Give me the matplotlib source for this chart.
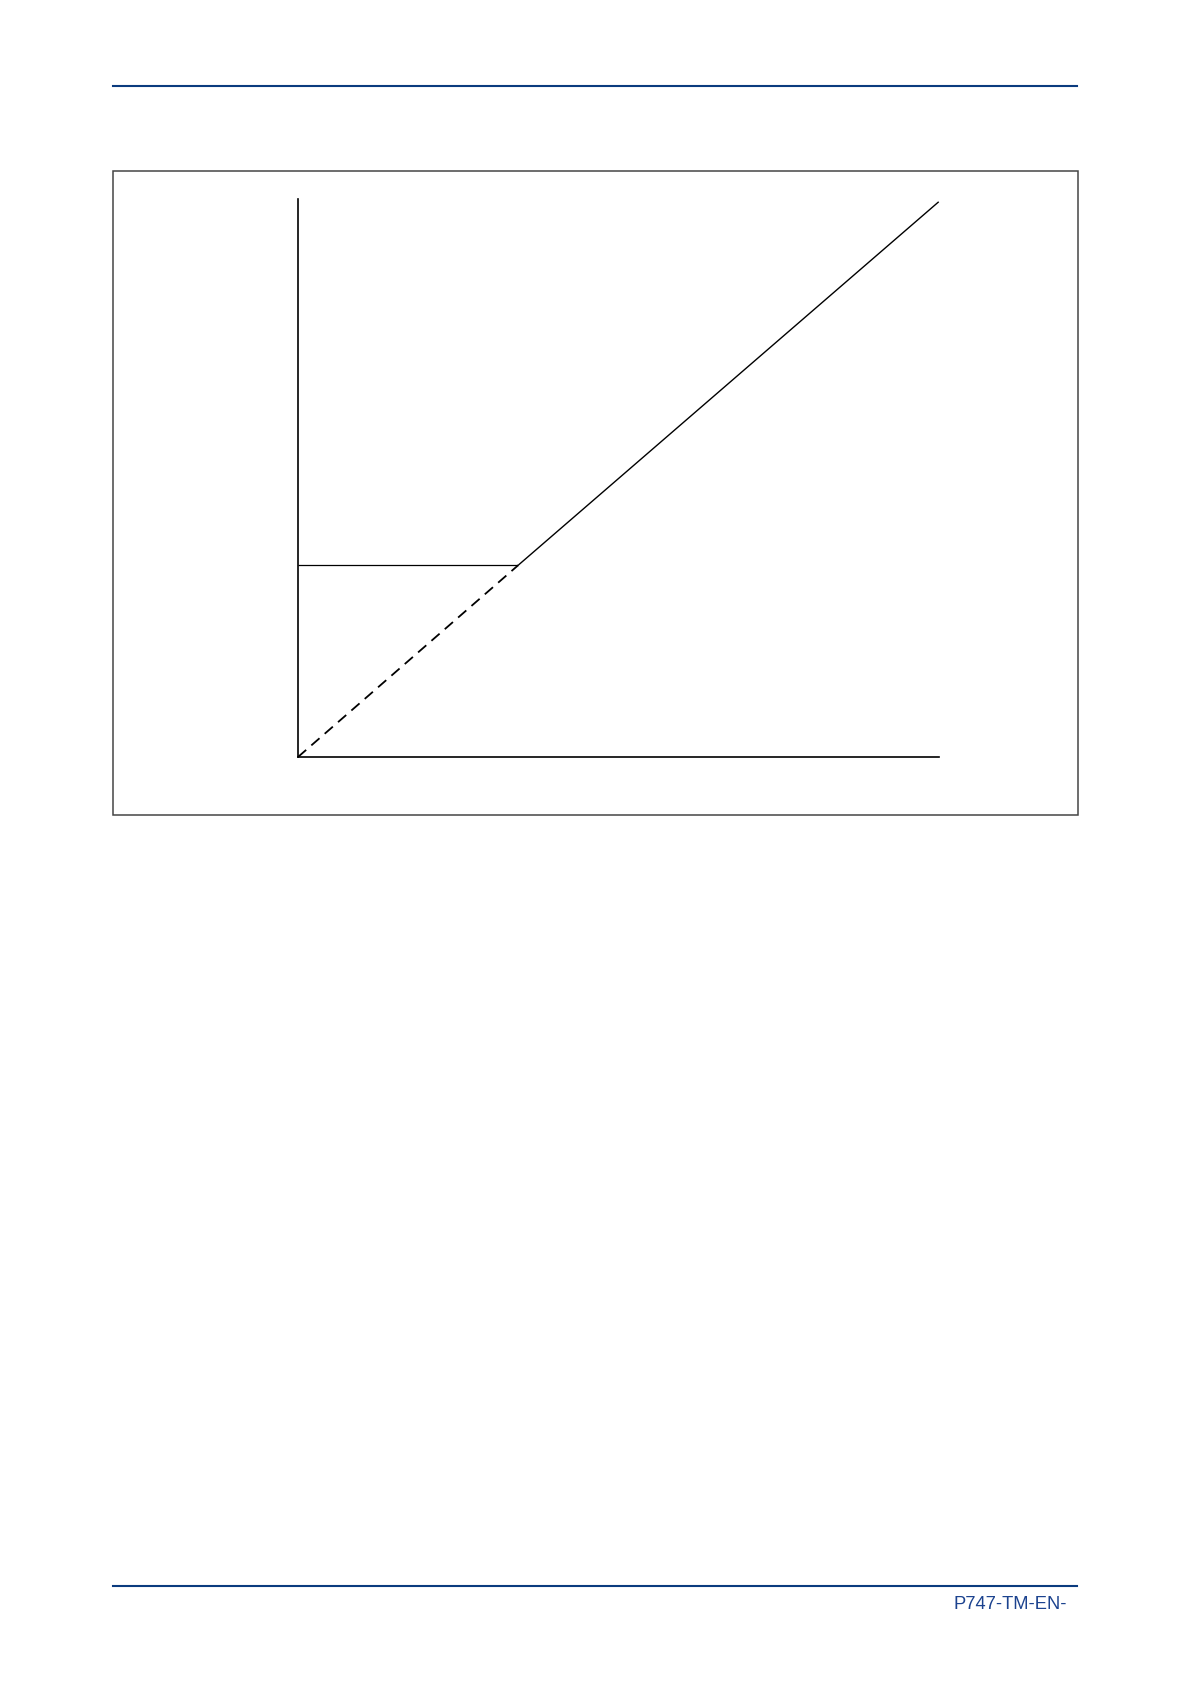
import matplotlib
matplotlib.use("Agg")
import matplotlib.pyplot as plt
from matplotlib.patches import Rectangle
from matplotlib.lines import Line2D

# page size in pixels (dpi 100)
W, H = 1191, 1684

# characteristic: flat setting up to the knee, then rising line through origin
knee_x = 34.4
knee_y = 34.4
flat_x = [0, knee_x]
flat_y = [knee_y, knee_y]
slope_x = [knee_x, 100]
slope_y = [knee_y, 99.5]
dash_x = [0, knee_x]
dash_y = [0, knee_y]

footer_text = "P747-TM-EN-"

blue_line = "#0b3b7e"
blue_text = "#1c438f"


def fx(px):
    return px / W


def fy(py):
    return 1 - py / H


fig = plt.figure(figsize=(W / 100, H / 100), dpi=100)

# header / footer rules
fig.add_artist(Line2D([fx(113), fx(1077)], [fy(85.7), fy(85.7)], color=blue_line, lw=1.5))
fig.add_artist(Line2D([fx(113), fx(1077)], [fy(1585.7), fy(1585.7)], color=blue_line, lw=1.5))
fig.text(fx(1067), fy(1609), footer_text, ha="right", va="baseline",
         fontsize=13.2, color=blue_text, family=["Liberation Sans", "DejaVu Sans"])

# figure frame
fig.add_artist(Rectangle((fx(112.5), fy(815.3)), fx(1077.7) - fx(112.5), fy(170.7) - fy(815.3),
                         fill=False, edgecolor="#454545", lw=1.1))

# plot area
ax = fig.add_axes([fx(298), fy(757), fx(938.7) - fx(298), fy(199) - fy(757)])
ax.set_xlim(0, 100)
ax.set_ylim(0, 100)
ax.patch.set_visible(False)
for s in ["top", "right"]:
    ax.spines[s].set_visible(False)
for s in ["left", "bottom"]:
    ax.spines[s].set_linewidth(1.2)
    ax.spines[s].set_color("black")
ax.set_xticks([])
ax.set_yticks([])

ax.plot(flat_x, flat_y, color="black", lw=0.9, solid_capstyle="butt", clip_on=False)
ax.plot(slope_x, slope_y, color="black", lw=1.0, solid_capstyle="butt", clip_on=False)
ax.plot(dash_x, dash_y, color="black", lw=1.3, dashes=(6.0, 3.8), clip_on=False)

fig.savefig("out.png", dpi=100)
